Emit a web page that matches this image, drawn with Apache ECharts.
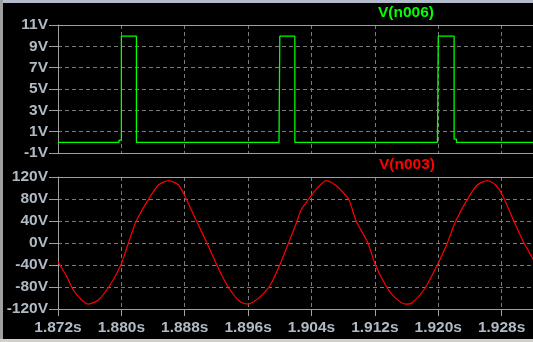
<!DOCTYPE html>
<html>
<head>
<meta charset="utf-8">
<script src="https://cdn.jsdelivr.net/npm/echarts@6/dist/echarts.min.js"></script>
<style>
html,body{margin:0;padding:0;background:#000;}
#chart{width:533px;height:342px;}
</style>
</head>
<body>
<div id="chart"></div>
<script>
// ---- data ----
const xTickStart = 1.872, xTickEnd = 1.936, xTickStep = 0.008;
const topTicks = { min: -1, max: 11, step: 2 };
const botTicks = { min: -120, max: 120, step: 40 };

const pulseT = [1.8720, 1.8797, 1.8797, 1.8800, 1.8800, 1.8819, 1.8819, 1.8999, 1.8999, 1.9000, 1.9000, 1.9019, 1.9019, 1.9199, 1.9199, 1.9200, 1.9200, 1.9220, 1.9220, 1.9223, 1.9223, 1.9360];
const pulseV = [0, 0, 0.2, 0.2, 9.95, 9.95, 0, 0, 0.2, 0.2, 9.95, 9.95, 0, 0, 0.2, 0.2, 9.95, 9.95, 0.3, 0.3, 0, 0];

const sineT = [1.87200, 1.87310, 1.87393, 1.87500, 1.87583, 1.87710, 1.87857, 1.87992, 1.88089, 1.88186,
  1.88342, 1.88468, 1.88595, 1.88720, 1.88806, 1.88950, 1.89080, 1.89240, 1.89374, 1.89500,
  1.89606, 1.89669, 1.89754, 1.89880, 1.89998, 1.90110, 1.90217, 1.90268, 1.90386, 1.90470,
  1.90588, 1.90700, 1.90765, 1.90870, 1.90965, 1.91112, 1.91208, 1.91334, 1.91440, 1.91587,
  1.91670, 1.91818, 1.91987, 1.92114, 1.92219, 1.92367, 1.92493, 1.92620, 1.92725, 1.92809,
  1.92956, 1.93082, 1.93205, 1.93300];
const sineV = [-34, -61, -85.5, -103.6, -111, -103.6, -76.4, -40.6, 0, 39.4,
  79.4, 105.5, 113.5, 105.5, 84, 39.4, 0, -51, -85.5, -106.7,
  -111, -106.7, -97.6, -76.4, -40.6, 0, 39.4, 60, 84, 99.4,
  113.3, 105.5, 97, 79.4, 39.4, 0, -40.6, -76.4, -97.6, -111,
  -108.5, -85.5, -40.6, 0, 39.4, 79.4, 105.5, 113.3, 105.5, 87.3,
  39.4, 0, -31, -55];

const seriesNames = ['V(n006)', 'V(n003)'];

// ---- styling ----
const FONT = '"Liberation Sans", Arial, sans-serif';
const labelColor = '#b0bac4';
const axisColor = '#a0a0a0';
const gridColor = '#7a7a7a';

function zip(a, b) { return a.map((v, i) => [v, b[i]]); }

const chart = echarts.init(document.getElementById('chart'), null, { renderer: 'canvas' });

function xAxisFor(gi, withLabels) {
  return {
    type: 'value', gridIndex: gi, position: 'bottom',
    min: xTickStart, max: xTickEnd, interval: xTickStep,
    axisLine: { show: true, onZero: false, lineStyle: { color: axisColor, width: 1 } },
    axisTick: { show: withLabels, length: 7, lineStyle: { color: axisColor } },
    axisLabel: {
      show: withLabels, margin: 11, color: labelColor, fontFamily: FONT, fontWeight: 'bold', fontSize: 15.5,
      formatter: v => v.toFixed(3) + 's'
    },
    splitLine: { show: true, lineStyle: { color: gridColor, type: [4, 3], width: 1 } }
  };
}
function xTopFor(gi) {
  return {
    type: 'value', gridIndex: gi, position: 'top',
    min: xTickStart, max: xTickEnd, interval: xTickStep,
    axisLine: { show: true, onZero: false, lineStyle: { color: axisColor, width: 1 } },
    axisTick: { show: false }, axisLabel: { show: false }, splitLine: { show: false }
  };
}
function yAxisFor(gi, t) {
  return {
    type: 'value', gridIndex: gi, min: t.min, max: t.max, interval: t.step,
    axisLine: { show: true, onZero: false, lineStyle: { color: axisColor, width: 1 } },
    axisTick: { show: true, length: 9, lineStyle: { color: axisColor } },
    axisLabel: {
      show: true, margin: 10, color: labelColor, fontFamily: FONT, fontWeight: 'bold', fontSize: 15.5,
      formatter: '{value}V'
    },
    splitLine: { show: true, lineStyle: { color: gridColor, type: [4, 3], width: 1 } }
  };
}

chart.setOption({
  backgroundColor: '#000',
  animation: false,
  grid: [
    { left: 58, top: 25, width: 507, height: 128, containLabel: false, outerBoundsMode: 'none' },
    { left: 58, top: 177, width: 507, height: 132, containLabel: false, outerBoundsMode: 'none' }
  ],
  xAxis: [xAxisFor(0, false), xAxisFor(1, true), xTopFor(0), xTopFor(1)],
  yAxis: [yAxisFor(0, topTicks), yAxisFor(1, botTicks)],
  series: [
    {
      name: seriesNames[0], type: 'line', xAxisIndex: 0, yAxisIndex: 0,
      data: zip(pulseT, pulseV), showSymbol: false, symbol: 'none',
      lineStyle: { color: '#00ff00', width: 1.3 }, z: 5
    },
    {
      name: seriesNames[1], type: 'line', xAxisIndex: 1, yAxisIndex: 1,
      data: zip(sineT, sineV), showSymbol: false, symbol: 'none',
      smooth: 0.25,
      lineStyle: { color: '#ff0000', width: 1.2 }, z: 5
    }
  ],
  graphic: [
    { type: 'text', x: 406, y: 13, style: { text: seriesNames[0], align: 'center', verticalAlign: 'middle', fill: '#00ff00', font: 'bold 15.5px ' + FONT } },
    { type: 'text', x: 407, y: 165, style: { text: seriesNames[1], align: 'center', verticalAlign: 'middle', fill: '#ff0000', font: 'bold 15.5px ' + FONT } },
    { type: 'rect', shape: { x: 0, y: 0, width: 533, height: 3 }, style: { fill: '#b4bccc' }, silent: true, z: 100 },
    { type: 'rect', shape: { x: 0, y: 0, width: 3, height: 342 }, style: { fill: '#a0a0a0' }, silent: true, z: 100 },
    { type: 'rect', shape: { x: 0, y: 339, width: 533, height: 3 }, style: { fill: '#d4d0c8' }, silent: true, z: 100 }
  ]
});
</script>
</body>
</html>
